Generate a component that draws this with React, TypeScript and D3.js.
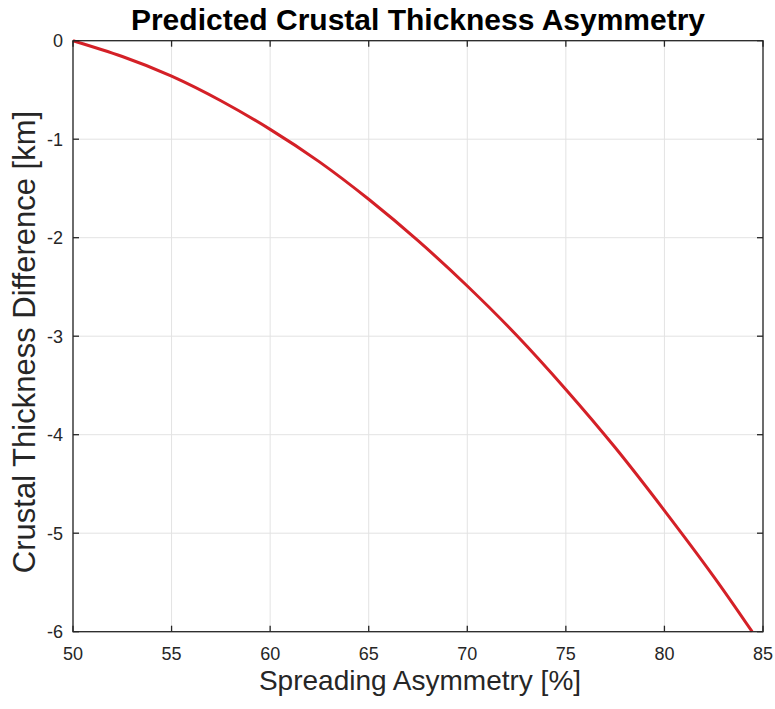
import React from "react";
import * as d3 from "d3";

const asymmetry = [50, 52.5, 55, 57.5, 60, 62.5, 65, 67.5, 70, 72.5, 75, 77.5, 80, 82.5, 84.45];
const thicknessDiff = [0, -0.16, -0.36, -0.61, -0.9, -1.23, -1.61, -2.03, -2.49, -2.99, -3.54, -4.13, -4.77, -5.44, -6.0];
const xTicks = [50, 55, 60, 65, 70, 75, 80, 85];
const yTicks = [0, -1, -2, -3, -4, -5, -6];

const W = 775;
const H = 709;
const M = { left: 73, right: 763, top: 40.7, bottom: 631.7 };

export default function App() {
  const x = d3.scaleLinear().domain([50, 85]).range([M.left, M.right]);
  const y = d3.scaleLinear().domain([-6, 0]).range([M.bottom, M.top]);
  const pts = asymmetry.map((a, i) => [a, thicknessDiff[i]] as [number, number]);
  const line = d3
    .line<[number, number]>()
    .x((d) => x(d[0]))
    .y((d) => y(d[1]))
    .curve(d3.curveNatural);
  const axisColor = "#262626";
  const font = "'Liberation Sans', Arial, Helvetica, sans-serif";
  const tl = 6;
  return (
    <svg
      width={W}
      height={H}
      style={{ position: "absolute", left: 0, top: 0, background: "#fff" }}
      fontFamily={font}
    >
      <rect x={0} y={0} width={W} height={H} fill="#fff" />
      {xTicks.map((t) => (
        <line key={"gx" + t} x1={x(t)} x2={x(t)} y1={M.top} y2={M.bottom} stroke="#e3e3e3" strokeWidth={1} />
      ))}
      {yTicks.map((t) => (
        <line key={"gy" + t} x1={M.left} x2={M.right} y1={y(t)} y2={y(t)} stroke="#e3e3e3" strokeWidth={1} />
      ))}
      <path d={line(pts) || ""} fill="none" stroke="#d42027" strokeWidth={3} strokeLinejoin="round" />
      <rect
        x={M.left}
        y={M.top}
        width={M.right - M.left}
        height={M.bottom - M.top}
        fill="none"
        stroke={axisColor}
        strokeWidth={1.3}
      />
      {xTicks.map((t) => (
        <g key={"tx" + t}>
          <line x1={x(t)} x2={x(t)} y1={M.bottom} y2={M.bottom - tl} stroke={axisColor} strokeWidth={1.3} />
          <line x1={x(t)} x2={x(t)} y1={M.top} y2={M.top + tl} stroke={axisColor} strokeWidth={1.3} />
          <text x={x(t)} y={660} textAnchor="middle" fontSize={18} fill={axisColor}>
            {t}
          </text>
        </g>
      ))}
      {yTicks.map((t) => (
        <g key={"ty" + t}>
          <line x1={M.left} x2={M.left + tl} y1={y(t)} y2={y(t)} stroke={axisColor} strokeWidth={1.3} />
          <line x1={M.right} x2={M.right - tl} y1={y(t)} y2={y(t)} stroke={axisColor} strokeWidth={1.3} />
          <text x={63} y={y(t)} dy="0.35em" textAnchor="end" fontSize={18} fill={axisColor}>
            {t}
          </text>
        </g>
      ))}
      <text x={420} y={690} textAnchor="middle" fontSize={28} fill={axisColor}>
        Spreading Asymmetry [%]
      </text>
      <text
        transform={`translate(35, 342) rotate(-90)`}
        textAnchor="middle"
        fontSize={31}
        fill={axisColor}
      >
        Crustal Thickness Difference [km]
      </text>
      <text x={418} y={30} textAnchor="middle" fontSize={30} fontWeight="bold" fill="#000">
        Predicted Crustal Thickness Asymmetry
      </text>
    </svg>
  );
}
